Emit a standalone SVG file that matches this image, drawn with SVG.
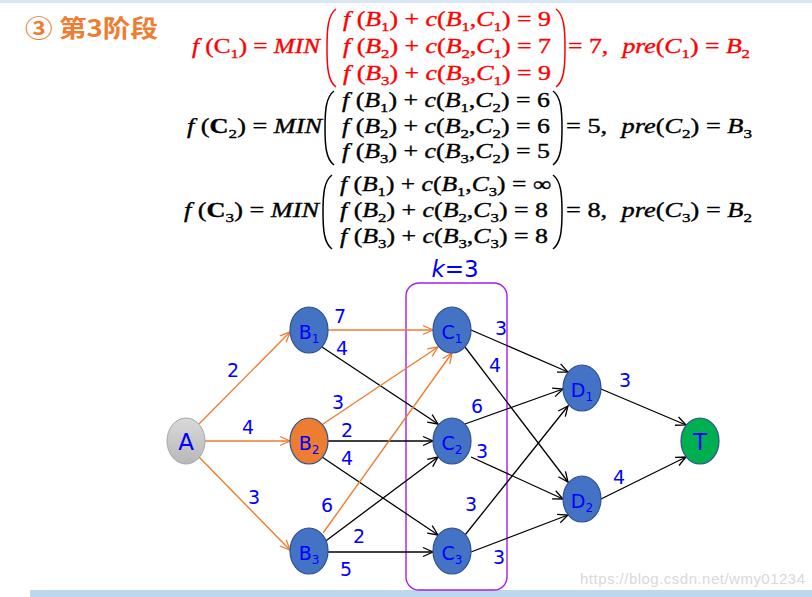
<svg xmlns="http://www.w3.org/2000/svg" width="812" height="597" viewBox="0 0 812 597">
<style>
.m{font-family:"Liberation Serif","Times New Roman",serif;font-size:20px;stroke-width:0.35}
.red{fill:#ff0000;stroke:#ff0000}
.blk{fill:#000;stroke:#000}
.i{font-style:italic}
.s{font-size:13px}
.par{fill:none;stroke-width:1.5}
.lbl{font-family:"DejaVu Sans","Liberation Sans",sans-serif;font-size:19px;fill:#0000ff;text-anchor:middle}
.nt{font-family:"DejaVu Sans","Liberation Sans",sans-serif;font-size:19px;fill:#0000ff;text-anchor:middle}
.ns{font-size:12px}
.node{fill:#4472c4;stroke:#2f528f;stroke-width:1.2}
.eo{fill:none;stroke:#ed7d31;stroke-width:1.4;marker-end:url(#ao)}
.eb{fill:none;stroke:#000;stroke-width:1.3;marker-end:url(#ab)}
</style>
<defs>
<marker id="ab" viewBox="0 0 12 12" refX="11" refY="6" markerWidth="12" markerHeight="12" orient="auto" markerUnits="userSpaceOnUse"><path d="M1,1.5 L11,6 L1,10.5" fill="none" stroke="#000" stroke-width="1.3"/></marker>
<marker id="ao" viewBox="0 0 12 12" refX="11" refY="6" markerWidth="12" markerHeight="12" orient="auto" markerUnits="userSpaceOnUse"><path d="M1,1.5 L11,6 L1,10.5" fill="none" stroke="#ed7d31" stroke-width="1.3"/></marker>
<linearGradient id="ga" x1="0" y1="0" x2="0" y2="1"><stop offset="0" stop-color="#d9d9d9"/><stop offset="1" stop-color="#b8b8b8"/></linearGradient>
</defs>
<rect width="812" height="597" fill="#ffffff"/>
<rect x="0" y="0" width="812" height="3" fill="#dae8f5"/>
<rect x="30" y="590" width="782" height="7" fill="#bdd7ee"/>

<text x="25" y="37" textLength="133" lengthAdjust="spacingAndGlyphs" style="font-family:'Noto Sans CJK SC','Noto Sans',sans-serif;font-weight:bold;font-size:24px;fill:#ed7d31">③ 第3阶段</text>

<g id="formula1" class="m red">
<text x="192" y="53" textLength="128" lengthAdjust="spacingAndGlyphs"><tspan class="i">f</tspan> (C<tspan class="s" dy="5">1</tspan><tspan dy="-5">) = </tspan><tspan class="i">MIN</tspan></text>
<path class="par" stroke="#ff0000" d="M336,9 C328,15 327,28 327,48 C327,68 328,81 336,87"/>
<text x="343" y="26" textLength="208" lengthAdjust="spacingAndGlyphs"><tspan class="i">f</tspan> (<tspan class="i">B</tspan><tspan class="s" dy="5">1</tspan><tspan dy="-5">) + </tspan><tspan class="i">c</tspan>(<tspan class="i">B</tspan><tspan class="s" dy="5">1</tspan><tspan dy="-5">,</tspan><tspan class="i">C</tspan><tspan class="s" dy="5">1</tspan><tspan dy="-5">) = 9</tspan></text>
<text x="343" y="53" textLength="208" lengthAdjust="spacingAndGlyphs"><tspan class="i">f</tspan> (<tspan class="i">B</tspan><tspan class="s" dy="5">2</tspan><tspan dy="-5">) + </tspan><tspan class="i">c</tspan>(<tspan class="i">B</tspan><tspan class="s" dy="5">2</tspan><tspan dy="-5">,</tspan><tspan class="i">C</tspan><tspan class="s" dy="5">1</tspan><tspan dy="-5">) = 7</tspan></text>
<text x="343" y="80" textLength="208" lengthAdjust="spacingAndGlyphs"><tspan class="i">f</tspan> (<tspan class="i">B</tspan><tspan class="s" dy="5">3</tspan><tspan dy="-5">) + </tspan><tspan class="i">c</tspan>(<tspan class="i">B</tspan><tspan class="s" dy="5">3</tspan><tspan dy="-5">,</tspan><tspan class="i">C</tspan><tspan class="s" dy="5">1</tspan><tspan dy="-5">) = 9</tspan></text>
<path class="par" stroke="#ff0000" d="M556,9 C564,15 565,28 565,48 C565,68 564,81 556,87"/>
<text x="568" y="53" textLength="182" lengthAdjust="spacingAndGlyphs">= 7,  <tspan dx="6" class="i">pre</tspan>(<tspan class="i">C</tspan><tspan class="s" dy="5">1</tspan><tspan dy="-5">) = </tspan><tspan class="i">B</tspan><tspan class="s" dy="5">2</tspan></text>
</g>

<g id="formula2" class="m blk">
<text x="187" y="133" textLength="135" lengthAdjust="spacingAndGlyphs"><tspan class="i">f</tspan> (<tspan font-weight="bold">C</tspan><tspan class="s" dy="5">2</tspan><tspan dy="-5">) = </tspan><tspan class="i">MIN</tspan></text>
<path class="par" stroke="#000" d="M334,91 C326,97 325,110 325,128 C325,146 326,159 334,165"/>
<text x="342" y="107" textLength="208" lengthAdjust="spacingAndGlyphs"><tspan class="i">f</tspan> (<tspan class="i">B</tspan><tspan class="s" dy="5">1</tspan><tspan dy="-5">) + </tspan><tspan class="i">c</tspan>(<tspan class="i">B</tspan><tspan class="s" dy="5">1</tspan><tspan dy="-5">,</tspan><tspan class="i">C</tspan><tspan class="s" dy="5">2</tspan><tspan dy="-5">) = 6</tspan></text>
<text x="342" y="133" textLength="208" lengthAdjust="spacingAndGlyphs"><tspan class="i">f</tspan> (<tspan class="i">B</tspan><tspan class="s" dy="5">2</tspan><tspan dy="-5">) + </tspan><tspan class="i">c</tspan>(<tspan class="i">B</tspan><tspan class="s" dy="5">2</tspan><tspan dy="-5">,</tspan><tspan class="i">C</tspan><tspan class="s" dy="5">2</tspan><tspan dy="-5">) = 6</tspan></text>
<text x="342" y="158" textLength="208" lengthAdjust="spacingAndGlyphs"><tspan class="i">f</tspan> (<tspan class="i">B</tspan><tspan class="s" dy="5">3</tspan><tspan dy="-5">) + </tspan><tspan class="i">c</tspan>(<tspan class="i">B</tspan><tspan class="s" dy="5">3</tspan><tspan dy="-5">,</tspan><tspan class="i">C</tspan><tspan class="s" dy="5">2</tspan><tspan dy="-5">) = 5</tspan></text>
<path class="par" stroke="#000" d="M553,91 C561,97 562,110 562,128 C562,146 561,159 553,165"/>
<text x="566" y="133" textLength="186" lengthAdjust="spacingAndGlyphs">= 5,  <tspan dx="6" class="i">pre</tspan>(<tspan class="i">C</tspan><tspan class="s" dy="5">2</tspan><tspan dy="-5">) = </tspan><tspan class="i">B</tspan><tspan class="s" dy="5">3</tspan></text>
</g>

<g id="formula3" class="m blk">
<text x="184" y="217" textLength="135" lengthAdjust="spacingAndGlyphs"><tspan class="i">f</tspan> (<tspan font-weight="bold">C</tspan><tspan class="s" dy="5">3</tspan><tspan dy="-5">) = </tspan><tspan class="i">MIN</tspan></text>
<path class="par" stroke="#000" d="M332,175 C324,181 323,194 323,212 C323,230 324,243 332,249"/>
<text x="340" y="191" textLength="211" lengthAdjust="spacingAndGlyphs"><tspan class="i">f</tspan> (<tspan class="i">B</tspan><tspan class="s" dy="5">1</tspan><tspan dy="-5">) + </tspan><tspan class="i">c</tspan>(<tspan class="i">B</tspan><tspan class="s" dy="5">1</tspan><tspan dy="-5">,</tspan><tspan class="i">C</tspan><tspan class="s" dy="5">3</tspan><tspan dy="-5">) = ∞</tspan></text>
<text x="340" y="217" textLength="208" lengthAdjust="spacingAndGlyphs"><tspan class="i">f</tspan> (<tspan class="i">B</tspan><tspan class="s" dy="5">2</tspan><tspan dy="-5">) + </tspan><tspan class="i">c</tspan>(<tspan class="i">B</tspan><tspan class="s" dy="5">2</tspan><tspan dy="-5">,</tspan><tspan class="i">C</tspan><tspan class="s" dy="5">3</tspan><tspan dy="-5">) = 8</tspan></text>
<text x="340" y="243" textLength="208" lengthAdjust="spacingAndGlyphs"><tspan class="i">f</tspan> (<tspan class="i">B</tspan><tspan class="s" dy="5">3</tspan><tspan dy="-5">) + </tspan><tspan class="i">c</tspan>(<tspan class="i">B</tspan><tspan class="s" dy="5">3</tspan><tspan dy="-5">,</tspan><tspan class="i">C</tspan><tspan class="s" dy="5">3</tspan><tspan dy="-5">) = 8</tspan></text>
<path class="par" stroke="#000" d="M553,175 C561,181 562,194 562,212 C562,230 561,243 553,249"/>
<text x="566" y="217" textLength="186" lengthAdjust="spacingAndGlyphs">= 8,  <tspan dx="6" class="i">pre</tspan>(<tspan class="i">C</tspan><tspan class="s" dy="5">3</tspan><tspan dy="-5">) = </tspan><tspan class="i">B</tspan><tspan class="s" dy="5">2</tspan></text>
</g>

<g id="stage-box">
<rect x="406" y="283" width="101" height="307" rx="13" fill="none" stroke="#a020f0" stroke-width="1.4"/>
<text x="455" y="277" style="font-family:'DejaVu Sans','Liberation Sans',sans-serif;font-size:23px;fill:#0000ff;text-anchor:middle"><tspan font-style="italic">k</tspan>=3</text>
</g>

<g id="connectors">
<path class="eo" d="M199,424 L290,332"/>
<path class="eo" d="M204,441 L290,441"/>
<path class="eo" d="M199,457 L290,550"/>
<path class="eo" d="M328,330 L433,330"/>
<path class="eb" d="M322,347 L438,424"/>
<path class="eo" d="M323,424 L438,347"/>
<path class="eb" d="M328,441 L433,441"/>
<path class="eb" d="M322,457 L438,535"/>
<path class="eo" d="M323,533 L452,353"/>
<path class="eb" d="M323,543 L438,457"/>
<path class="eb" d="M328,552 L433,552"/>
<path class="eb" d="M471,330 L568,372"/>
<path class="eb" d="M465,347 L568,482"/>
<path class="eb" d="M465,424 L563,389"/>
<path class="eb" d="M471,457 L563,499"/>
<path class="eb" d="M465,535 L568,406"/>
<path class="eb" d="M471,552 L568,515"/>
<path class="eb" d="M601,389 L686,425"/>
<path class="eb" d="M601,499 L686,457"/>
</g>

<g id="edge-labels" class="lbl">
<text x="233" y="377">2</text>
<text x="248" y="434">4</text>
<text x="254" y="504">3</text>
<text x="340" y="323">7</text>
<text x="342" y="355">4</text>
<text x="338" y="409">3</text>
<text x="347" y="437">2</text>
<text x="347" y="465">4</text>
<text x="327" y="512">6</text>
<text x="359" y="543">2</text>
<text x="346" y="576">5</text>
<text x="501" y="335">3</text>
<text x="495" y="372">4</text>
<text x="477" y="413">6</text>
<text x="482" y="458">3</text>
<text x="471" y="511">3</text>
<text x="499" y="564">3</text>
<text x="625" y="387">3</text>
<text x="619" y="484">4</text>
</g>

<g id="A"><ellipse cx="186" cy="441" rx="19" ry="23" fill="url(#ga)" stroke="#a6a6a6" stroke-width="1"/><text class="nt" x="186" y="450" style="font-size:23px">A</text></g>
<g id="B1"><ellipse class="node" cx="309" cy="330" rx="19" ry="23"/><text class="nt" x="309" y="339">B<tspan class="ns" dy="4">1</tspan></text></g>
<g id="B2"><ellipse cx="309" cy="441" rx="19" ry="23" fill="#ed7d31" stroke="#2f528f" stroke-width="1.2"/><text class="nt" x="309" y="450">B<tspan class="ns" dy="4">2</tspan></text></g>
<g id="B3"><ellipse class="node" cx="309" cy="551" rx="19" ry="23"/><text class="nt" x="309" y="560">B<tspan class="ns" dy="4">3</tspan></text></g>
<g id="C1"><ellipse class="node" cx="452" cy="330" rx="19" ry="23"/><text class="nt" x="452" y="339">C<tspan class="ns" dy="4">1</tspan></text></g>
<g id="C2"><ellipse class="node" cx="452" cy="441" rx="19" ry="23"/><text class="nt" x="452" y="450">C<tspan class="ns" dy="4">2</tspan></text></g>
<g id="C3"><ellipse class="node" cx="452" cy="551" rx="19" ry="23"/><text class="nt" x="452" y="560">C<tspan class="ns" dy="4">3</tspan></text></g>
<g id="D1"><ellipse class="node" cx="582" cy="388" rx="19" ry="23"/><text class="nt" x="582" y="397">D<tspan class="ns" dy="4">1</tspan></text></g>
<g id="D2"><ellipse class="node" cx="582" cy="499" rx="19" ry="23"/><text class="nt" x="582" y="508">D<tspan class="ns" dy="4">2</tspan></text></g>
<g id="T"><ellipse cx="700" cy="441" rx="19" ry="23" fill="#00b050" stroke="#2f528f" stroke-width="1.2"/><text class="nt" x="700" y="450" style="font-size:23px">T</text></g>

<text x="580" y="584" style="font-family:'Liberation Sans',Arial,sans-serif;font-size:15px;fill:#d9d9d9" textLength="225">https://blog.csdn.net/wmy01234</text>
</svg>
